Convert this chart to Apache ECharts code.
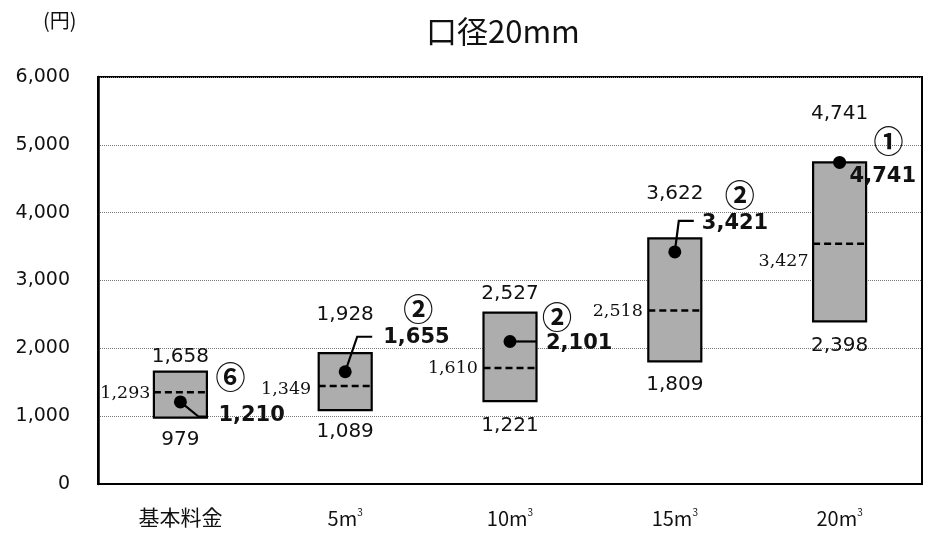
<!DOCTYPE html>
<html>
<head>
<meta charset="utf-8">
<script src="https://cdn.jsdelivr.net/npm/echarts@6/dist/echarts.min.js"></script>
<style>html,body{margin:0;padding:0;background:#fff}#c{width:936px;height:534px}</style>
</head>
<body>
<div id="c"></div>
<script>
const categories = ['基本料金', '5m', '10m', '15m', '20m'];
const minVals = [979, 1089, 1221, 1809, 2398];
const maxVals = [1658, 1928, 2527, 3622, 4741];
const medianVals = [1293, 1349, 1610, 2518, 3427];
const dashLevels = [1352, 1445, 1711, 2556, 3540];
const ownVals = [1210, 1655, 2101, 3421, 4741];
const ranks = ['⑥', '②', '②', '②', '①'];
const yTicks = [0, 1000, 2000, 3000, 4000, 5000, 6000];

// label placement (pixel offsets), kept separate from data
const layout = [
  {maxDy: -15, minDy: 22, medDx: -30, medDy: 1, valDx: 38, valDy: 14, leader: [[18, 14.6], [26.5, 14.6]], rankDx: 50, rankDy: -25},
  {maxDy: -38, minDy: 22, medDx: -34, medDy: 3, valDx: 38, valDy: -34, leader: [[12, -35], [27, -35]], rankDx: 73, rankDy: -63},
  {maxDy: -19, minDy: 25, medDx: -32, medDy: 1, valDx: 36, valDy: 2, leader: [[26.5, 0]], rankDx: 47, rankDy: -25},
  {maxDy: -45, minDy: 24, medDx: -32, medDy: 1, valDx: 27, valDy: -28, leader: [[4, -31], [19, -31]], rankDx: 65, rankDy: -57},
  {maxDy: -49, minDy: 24, medDx: -31, medDy: 18, valDx: 10, valDy: 14, leader: null, rankDx: 49, rankDy: -22}
];

const fmt = v => v.toLocaleString('en-US');
const data = categories.map((c, i) => [i, minVals[i], maxVals[i], dashLevels[i], ownVals[i]]);

function renderItem(params, api) {
  const i = api.value(0);
  const L = layout[i];
  const pMin = api.coord([i, api.value(1)]);
  const pMax = api.coord([i, api.value(2)]);
  const pDash = api.coord([i, api.value(3)]);
  const pOwn = api.coord([i, api.value(4)]);
  const cx = pMin[0];
  const hw = 26.5;
  const kids = [];
  kids.push({type: 'rect', shape: {x: cx - hw, y: pMax[1], width: hw * 2, height: pMin[1] - pMax[1]},
    style: {fill: '#adadad', stroke: '#000', lineWidth: 2.2}});
  kids.push({type: 'line', shape: {x1: cx - hw, y1: pDash[1], x2: cx + hw, y2: pDash[1]},
    style: {stroke: '#000', lineWidth: 2.5, lineDash: [7, 4]}});
  if (L.leader) {
    const pts = [[pOwn[0], pOwn[1]]].concat(L.leader.map(p => [cx + p[0], pOwn[1] + p[1]]));
    kids.push({type: 'polyline', shape: {points: pts}, style: {stroke: '#000', lineWidth: 2.2, fill: null}});
  }
  kids.push({type: 'circle', shape: {cx: pOwn[0], cy: pOwn[1], r: 6.5}, style: {fill: '#000'}});
  const txt = (text, x, y, align, size, family, weight) => ({type: 'text',
    style: {text: text, x: x, y: y, align: align, verticalAlign: 'middle', fontSize: size, fontFamily: family, fontWeight: weight || 'normal', fill: '#111'}});
  kids.push(txt(fmt(maxVals[i]), cx, pMax[1] + L.maxDy, 'center', 20, 'DejaVu Sans'));
  kids.push(txt(fmt(minVals[i]), cx, pMin[1] + L.minDy, 'center', 20, 'DejaVu Sans'));
  kids.push(txt(fmt(medianVals[i]), cx + L.medDx, pDash[1] + L.medDy, 'right', 17.5, 'DejaVu Serif'));
  kids.push(txt(fmt(ownVals[i]), cx + L.valDx, pOwn[1] + L.valDy, 'left', 21, 'DejaVu Sans', 'bold'));
  kids.push(txt(ranks[i], cx + L.rankDx, pOwn[1] + L.rankDy, 'center', 30, 'Noto Sans CJK JP', 'bold'));
  return {type: 'group', children: kids};
}

const chart = echarts.init(document.getElementById('c'));
chart.setOption({
  animation: false,
  title: [
    {text: '口径20mm', left: 421, top: 11, textStyle: {fontSize: 31, fontWeight: 'normal', color: '#111', fontFamily: 'Noto Sans CJK JP'}},
    {text: '(円)', left: 38, top: 5, textStyle: {fontSize: 20, fontWeight: 'normal', color: '#111', fontFamily: 'Noto Sans CJK JP'}}
  ],
  grid: {left: 98, right: 14, top: 77, bottom: 50, show: true, borderColor: '#000', borderWidth: 2, backgroundColor: 'transparent'},
  xAxis: {
    type: 'category', data: categories,
    axisLine: {show: true, lineStyle: {color: '#000', width: 2}},
    axisTick: {show: false},
    axisLabel: {
      margin: 23, color: '#111', fontSize: 21, fontFamily: 'Noto Sans CJK JP',
      formatter: v => v === '基本料金' ? v : '{a|' + v + '}{s|3}',
      rich: {a: {fontSize: 20, fontFamily: 'Noto Sans CJK JP', color: '#111'},
             s: {fontSize: 10, fontFamily: 'Noto Sans CJK JP', color: '#111', verticalAlign: 'top', padding: [0, 0, 12, 0]}}
    }
  },
  yAxis: {
    type: 'value', min: yTicks[0], max: yTicks[yTicks.length - 1], interval: yTicks[1] - yTicks[0],
    axisLine: {show: true, lineStyle: {color: '#000', width: 2.5}},
    axisTick: {show: false},
    axisLabel: {margin: 28, color: '#111', fontSize: 19, fontFamily: 'DejaVu Sans', formatter: v => fmt(v)},
    splitLine: {show: true, lineStyle: {color: '#777', type: 'dotted', width: 1}}
  },
  series: [{type: 'custom', renderItem: renderItem, data: data, clip: false, z: 5}]
});
</script>
</body>
</html>
